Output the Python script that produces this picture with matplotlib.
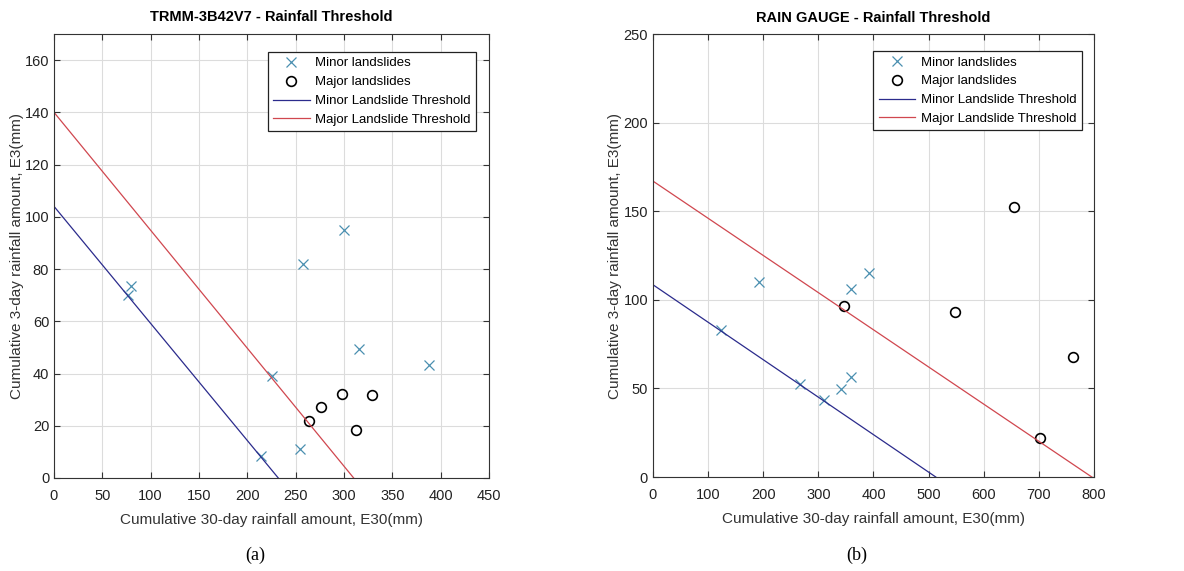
"""
Rainfall thresholds for landslides: TRMM satellite (a) vs rain gauge (b)
"""
import matplotlib
matplotlib.use("Agg")
import matplotlib.pyplot as plt
import numpy as np

plt.rcParams['font.family'] = ['Liberation Sans', 'DejaVu Sans']

# --- (a) TRMM-3B42V7 ---
trmm_minor_e30 = [80, 77, 258, 300, 226, 316, 388, 214, 255]
trmm_minor_e3  = [73.5, 70, 82, 95, 39, 49.5, 43.3, 8.5, 11]
trmm_major_e30 = [264, 276, 298, 329, 312]
trmm_major_e3  = [22, 27.3, 32.3, 31.8, 18.3]
trmm_minor_line = ([0, 232], [104, 0])
trmm_major_line = ([0, 310], [140, 0])

# --- (b) rain gauge ---
gauge_minor_e30 = [193, 392, 359, 123, 266, 311, 341, 359]
gauge_minor_e3  = [110.3, 115, 106, 83, 52.5, 43.5, 49.8, 56.3]
gauge_major_e30 = [346, 548, 655, 702, 762]
gauge_major_e3  = [96.5, 93, 152.5, 22.2, 68]
gauge_minor_line = ([0, 513], [108.5, 0])
gauge_major_line = ([0, 796], [167, 0])

minor_col = "#4a8fb0"
line_blue = "#2b2b8c"
line_red = "#d0474f"


def draw_panel(ax, title, minor, major, mline, Mline, xlim, ylim, xticks,
               yticks, leg_anchor, ylabelpad):
  ax.plot(minor[0], minor[1], "x", color=minor_col, ms=7, mew=0.9,
          label="Minor landslides")
  ax.plot(major[0], major[1], "o", mfc="none", mec="black", ms=7, mew=1.2,
          label="Major landslides")
  ax.plot(mline[0], mline[1], "-", color=line_blue, lw=0.9,
          label="Minor Landslide Threshold")
  ax.plot(Mline[0], Mline[1], "-", color=line_red, lw=0.9,
          label="Major Landslide Threshold")
  ax.set_xlim(*xlim)
  ax.set_ylim(*ylim)
  ax.set_xticks(xticks)
  ax.set_yticks(yticks)
  ax.grid(True, color="#dcdcdc", lw=0.8)
  ax.set_axisbelow(True)
  ax.tick_params(direction="in", top=True, right=True, length=4,
                 labelsize=10.5, colors="#333333", labelcolor="#222222")
  ax.tick_params(axis="x", pad=8)
  for sp in ax.spines.values():
    sp.set_color("#333333")
  ax.set_title(title, fontsize=10.5, fontweight="bold", pad=9)
  ax.set_xlabel("Cumulative 30-day rainfall amount, E30(mm)", fontsize=11,
                color="#333333", labelpad=7)
  ax.set_ylabel("Cumulative 3-day rainfall amount, E3(mm)", fontsize=11,
                color="#333333", labelpad=ylabelpad)
  leg = ax.legend(loc="upper right", fontsize=9.5, fancybox=False,
                  framealpha=1, edgecolor="#222222", borderpad=0.4,
                  labelspacing=0.5, handlelength=2.8, handletextpad=0.4,
                  borderaxespad=0, bbox_to_anchor=leg_anchor)
  leg.get_frame().set_linewidth(0.9)


fig = plt.figure(figsize=(11.84, 5.71), dpi=100)
ax1 = fig.add_axes([0.0456, 0.1629, 0.3674, 0.7776])
ax2 = fig.add_axes([0.5515, 0.1646, 0.3725, 0.7758])

draw_panel(ax1, "TRMM-3B42V7 - Rainfall Threshold",
           (trmm_minor_e30, trmm_minor_e3), (trmm_major_e30, trmm_major_e3),
           trmm_minor_line, trmm_major_line,
           (0, 450), (0, 170), np.arange(0, 451, 50), np.arange(0, 161, 20),
           (0.970, 0.9595), 0.5)
draw_panel(ax2, "RAIN GAUGE - Rainfall Threshold",
           (gauge_minor_e30, gauge_minor_e3), (gauge_major_e30, gauge_major_e3),
           gauge_minor_line, gauge_major_line,
           (0, 800), (0, 250), np.arange(0, 801, 100), np.arange(0, 251, 50),
           (0.972, 0.9616), 1.0)

fig.text(0.2155, 0.028, "(a)", ha="center", va="center", fontsize=13,
         family="Liberation Serif")
fig.text(0.724, 0.028, "(b)", ha="center", va="center", fontsize=13,
         family="Liberation Serif")

fig.savefig("out.png", dpi=100)
